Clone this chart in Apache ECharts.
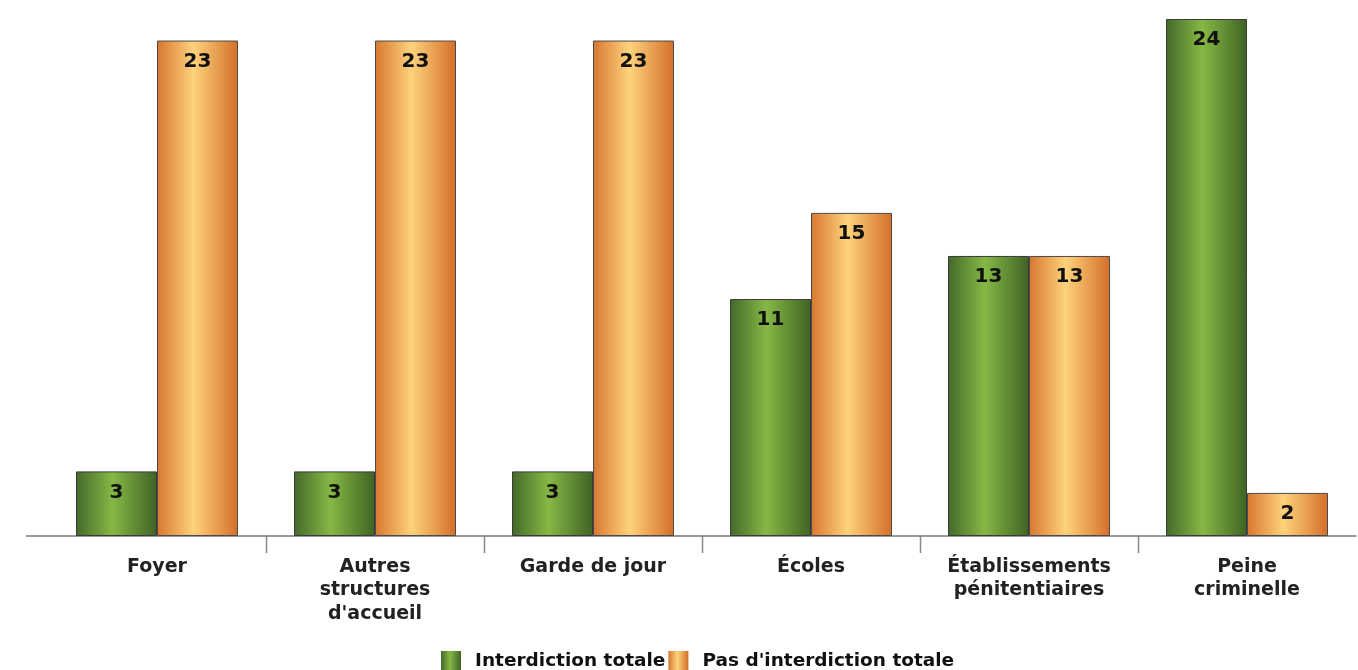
<!DOCTYPE html>
<html><head><meta charset="utf-8">
<script src="https://cdn.jsdelivr.net/npm/echarts@6/dist/echarts.min.js"></script>
<style>html,body{margin:0;padding:0;background:#fff}#c{width:1358px;height:670px}</style>
</head><body><div id="c"></div>
<script>
const categories = ['Foyer', 'Autres\nstructures\nd\'accueil', 'Garde de jour', 'Écoles', 'Établissements\npénitentiaires', 'Peine\ncriminelle'];
const seriesNames = ['Interdiction totale', "Pas d'interdiction totale"];
const interdiction = [3, 3, 3, 11, 13, 24];
const pasInterdiction = [23, 23, 23, 15, 13, 2];

const font = '"DejaVu Sans", "Liberation Sans", Arial, sans-serif';
const greenGrad = {type:'linear', x:0, y:0, x2:1, y2:0, colorStops:[
  {offset:0, color:'#44692a'}, {offset:0.45, color:'#86b845'}, {offset:1, color:'#3f6224'}]};
const orangeGrad = {type:'linear', x:0, y:0, x2:1, y2:0, colorStops:[
  {offset:0, color:'#d8772f'}, {offset:0.45, color:'#fed27c'}, {offset:1, color:'#d36f28'}]};

const label = {show:true, position:'insideTop', distance:11, color:'#111', fontWeight:'bold', fontSize:20, fontFamily:font};

const chart = echarts.init(document.getElementById('c'), null, {renderer:'canvas'});
chart.setOption({
  animation:false,
  grid:{left:48, right:2, top:19, bottom:134, containLabel:false},
  legend:{top:646, left:436, itemWidth:20, itemHeight:20, itemGap:3,
    itemStyle:{borderWidth:0},
    textStyle:{fontSize:18.5, fontWeight:'bold', fontFamily:font, color:'#111', padding:[0,0,0,9]},
    data:seriesNames.map(n=>({name:n, icon:'rect'}))},
  xAxis:{type:'category', data:categories,
    axisLine:{lineStyle:{color:'#777', width:1.5}},
    axisTick:{show:false},
    axisLabel:{fontSize:19, fontWeight:'bold', fontFamily:font, color:'#222', lineHeight:23.5, margin:19, interval:0}},
  yAxis:{type:'value', min:0, max:24, show:false, splitLine:{show:false}},
  series:[
    {name:seriesNames[0], type:'bar', data:interdiction, barWidth:81, barGap:'0%',
     itemStyle:{color:greenGrad, borderColor:'#3a3a3a', borderWidth:1}, label:label},
    {name:seriesNames[1], type:'bar', data:pasInterdiction, barWidth:81, barGap:'0%',
     itemStyle:{color:orangeGrad, borderColor:'#4a4a4a', borderWidth:1}, label:label}
  ]
});

// ticks only between categories, positioned through the axis scale
const axisY = chart.convertToPixel({yAxisIndex:0}, 0);
const graphics = [];
for (let i = 1; i < categories.length; i++) {
  const a = chart.convertToPixel({xAxisIndex:0}, i - 1);
  const b = chart.convertToPixel({xAxisIndex:0}, i);
  const x = Math.round((a + b) / 2) + 0.5;
  graphics.push({type:'line', shape:{x1:x, y1:axisY, x2:x, y2:axisY + 17}, style:{stroke:'#888', lineWidth:1.5}});
}
const x0 = chart.convertToPixel({xAxisIndex:0}, 0) - (chart.convertToPixel({xAxisIndex:0}, 1) - chart.convertToPixel({xAxisIndex:0}, 0)) / 2;
graphics.push({type:'line', shape:{x1:26, y1:axisY, x2:x0, y2:axisY}, style:{stroke:'#777', lineWidth:1.5}});
chart.setOption({graphic:graphics});
</script></body></html>
